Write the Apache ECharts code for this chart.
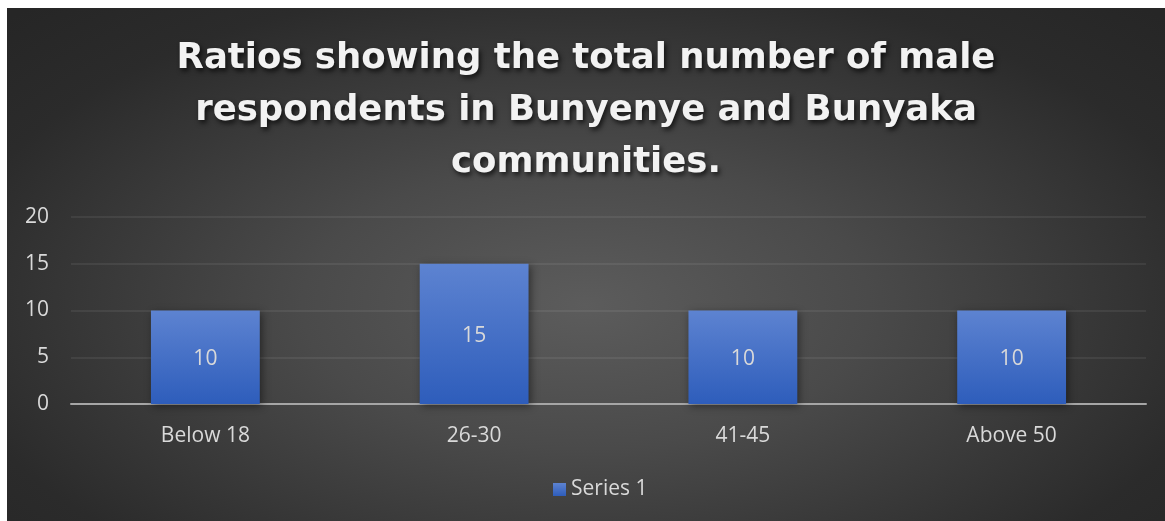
<!DOCTYPE html>
<html>
<head>
<meta charset="utf-8">
<script src="https://cdn.jsdelivr.net/npm/echarts@6/dist/echarts.min.js"></script>
<style>
html,body{margin:0;padding:0;background:#ffffff;}
#chart{position:absolute;left:7px;top:8px;width:1158px;height:513px;
background:radial-gradient(ellipse 70% 80% at 50% 58%, #5c5c5c 0%, #4a4a4a 35%, #2b2b2b 80%, #262626 100%);}
</style>
</head>
<body>
<div id="chart"></div>
<script>
var categories = ['Below 18', '26-30', '41-45', 'Above 50'];
var series1 = [10, 15, 10, 10];
var seriesName = 'Series 1';
var titleText = 'Ratios showing the total number of male\nrespondents in Bunyenye and Bunyaka\ncommunities.';

var chart = echarts.init(document.getElementById('chart'), null, {renderer:'canvas'});
var labelFont = '"Open Sans", "Liberation Sans", sans-serif';
chart.setOption({
  backgroundColor: 'transparent',
  title: {
    text: titleText,
    left: 'center',
    top: 20,
    textStyle: {
      color: '#f2f2f2',
      fontFamily: '"DejaVu Sans", sans-serif',
      fontWeight: 'bold',
      fontSize: 35.5,
      lineHeight: 52,
      textShadowColor: 'rgba(0,0,0,0.7)',
      textShadowBlur: 5,
      textShadowOffsetX: 2,
      textShadowOffsetY: 3
    }
  },
  legend: {
    bottom: 16,
    left: 541,
    itemWidth: 13,
    itemHeight: 13,
    itemGap: 6,
    icon: 'rect',
    textStyle: {color: '#d9d9d9', fontSize: 21, fontFamily: labelFont},
    data: [seriesName]
  },
  grid: {left: 64, right: 19, top: 209, bottom: 117, containLabel: false},
  xAxis: {
    type: 'category',
    data: categories,
    axisLine: {lineStyle: {color: '#a6a6a6', width: 2}},
    axisTick: {show: false},
    axisLabel: {color: '#d9d9d9', fontSize: 21, fontFamily: labelFont, margin: 22}
  },
  yAxis: {
    type: 'value',
    min: 0, max: 20, interval: 5,
    axisLine: {show: false},
    axisTick: {show: false},
    splitLine: {lineStyle: {color: 'rgba(255,255,255,0.09)', width: 1.5}},
    axisLabel: {color: '#d9d9d9', fontSize: 21, fontFamily: labelFont, margin: 22}
  },
  series: [{
    name: seriesName,
    type: 'bar',
    data: series1,
    barWidth: '40.5%',
    itemStyle: {
      color: new echarts.graphic.LinearGradient(0, 0, 0, 1, [
        {offset: 0, color: '#5d83d1'},
        {offset: 1, color: '#2e5dbb'}
      ]),
      shadowColor: 'rgba(0,0,0,0.45)',
      shadowBlur: 8,
      shadowOffsetX: 2,
      shadowOffsetY: 2
    },
    label: {
      show: true,
      position: 'inside',
      offset: [0, 2],
      color: '#d9d9d9',
      fontSize: 21,
      fontFamily: labelFont
    }
  }]
});
</script>
</body>
</html>
